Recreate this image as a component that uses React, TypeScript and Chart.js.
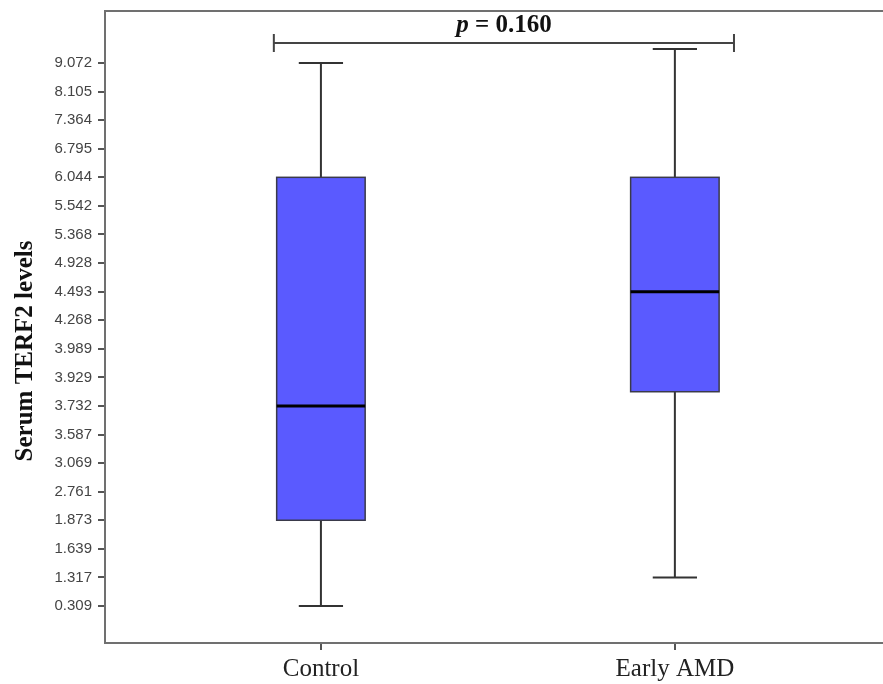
import React, { useEffect, useRef } from 'react';
import { Chart, registerables } from 'chart.js';

Chart.register(...registerables);

const categories = ['Control', 'Early AMD'];
const tickLabels = ['0.309', '1.317', '1.639', '1.873', '2.761', '3.069', '3.587', '3.732', '3.929', '3.989', '4.268', '4.493', '4.928', '5.368', '5.542', '6.044', '6.795', '7.364', '8.105', '9.072'];
const whiskerLow = [0.309, 1.317];
const quartile1 = [1.873, 3.83];
const medians = [3.732, 4.493];
const quartile3 = [6.044, 6.044];
const whiskerHigh = [9.072, 9.55];
const pValueLabel = ['p', ' = 0.160'];
const yTitle = 'Serum TERF2 levels';

const tickValues = tickLabels.map(Number);

// ordinal axis: value -> rank position between the listed tick values
function toRank(v: number): number {
  const n = tickValues.length;
  if (v <= tickValues[0]) {
    return (v - tickValues[0]) / (tickValues[1] - tickValues[0]);
  }
  for (let i = 0; i < n - 1; i++) {
    const a = tickValues[i];
    const b = tickValues[i + 1];
    if (v >= a && v <= b) return i + (v - a) / (b - a);
  }
  return n - 1 + (v - tickValues[n - 1]) / (tickValues[n - 1] - tickValues[n - 2]);
}

const BOX_HALF = 0.125;
const CAP_HALF = 0.0625;

const boxPlugin = {
  id: 'boxPlot',
  afterDatasetsDraw(chart: any) {
    const { ctx, chartArea, scales } = chart;
    const xs = scales.x;
    const ys = scales.y;

    // frame top line
    ctx.save();
    ctx.strokeStyle = '#707070';
    ctx.lineWidth = 2;
    ctx.beginPath();
    ctx.moveTo(chartArea.left - 1, chartArea.top);
    ctx.lineTo(chartArea.right, chartArea.top);
    ctx.stroke();
    ctx.restore();

    categories.forEach((_, i) => {
      const cx = xs.getPixelForValue(i);
      const bl = xs.getPixelForValue(i - BOX_HALF);
      const br = xs.getPixelForValue(i + BOX_HALF);
      const cl = xs.getPixelForValue(i - CAP_HALF);
      const cr = xs.getPixelForValue(i + CAP_HALF);
      const yMin = ys.getPixelForValue(toRank(whiskerLow[i]));
      const yQ1 = ys.getPixelForValue(toRank(quartile1[i]));
      const yMed = ys.getPixelForValue(toRank(medians[i]));
      const yQ3 = ys.getPixelForValue(toRank(quartile3[i]));
      const yMax = ys.getPixelForValue(toRank(whiskerHigh[i]));

      ctx.save();
      // whiskers
      ctx.strokeStyle = '#333333';
      ctx.lineWidth = 2;
      ctx.beginPath();
      ctx.moveTo(cx, yQ3);
      ctx.lineTo(cx, yMax);
      ctx.moveTo(cl, yMax);
      ctx.lineTo(cr, yMax);
      ctx.moveTo(cx, yQ1);
      ctx.lineTo(cx, yMin);
      ctx.moveTo(cl, yMin);
      ctx.lineTo(cr, yMin);
      ctx.stroke();
      // box
      ctx.fillStyle = '#5a5aff';
      ctx.fillRect(bl, yQ3, br - bl, yQ1 - yQ3);
      ctx.strokeStyle = '#3a3a4a';
      ctx.lineWidth = 1.5;
      ctx.strokeRect(bl, yQ3, br - bl, yQ1 - yQ3);
      // median
      ctx.strokeStyle = '#000000';
      ctx.lineWidth = 3;
      ctx.beginPath();
      ctx.moveTo(bl, yMed);
      ctx.lineTo(br, yMed);
      ctx.stroke();
      ctx.restore();
    });

    // significance bracket
    const topWhisker = Math.min(...whiskerHigh.map((v) => ys.getPixelForValue(toRank(v))));
    const by = topWhisker - 6;
    const bx1 = xs.getPixelForValue(-0.133);
    const bx2 = xs.getPixelForValue(1.167);
    ctx.save();
    ctx.strokeStyle = '#444444';
    ctx.lineWidth = 2;
    ctx.beginPath();
    ctx.moveTo(bx1, by);
    ctx.lineTo(bx2, by);
    ctx.moveTo(bx1, by - 9);
    ctx.lineTo(bx1, by + 9);
    ctx.moveTo(bx2, by - 9);
    ctx.lineTo(bx2, by + 9);
    ctx.stroke();

    const fItalic = 'italic bold 25px "Liberation Serif", "Times New Roman", serif';
    const fBold = 'bold 25px "Liberation Serif", "Times New Roman", serif';
    ctx.font = fItalic;
    const w1 = ctx.measureText(pValueLabel[0]).width;
    ctx.font = fBold;
    const w2 = ctx.measureText(pValueLabel[1]).width;
    const midX = (bx1 + bx2) / 2;
    const startX = midX - (w1 + w2) / 2;
    ctx.fillStyle = '#111111';
    ctx.textBaseline = 'alphabetic';
    ctx.textAlign = 'left';
    ctx.font = fItalic;
    ctx.fillText(pValueLabel[0], startX, by - 11);
    ctx.font = fBold;
    ctx.fillText(pValueLabel[1], startX + w1, by - 11);
    ctx.restore();

    // y-axis title
    ctx.save();
    ctx.translate(26, 351);
    ctx.rotate(-Math.PI / 2);
    ctx.font = 'bold 25px "Liberation Serif", "Times New Roman", serif';
    ctx.fillStyle = '#111111';
    ctx.textAlign = 'center';
    ctx.textBaseline = 'middle';
    ctx.fillText(yTitle, 0, 0);
    ctx.restore();
  },
};

export default function App() {
  const ref = useRef<HTMLCanvasElement | null>(null);

  useEffect(() => {
    if (!ref.current) return;
    const chart = new Chart(ref.current, {
      type: 'scatter',
      data: {
        datasets: [
          {
            label: 'median',
            data: medians.map((m, i) => ({ x: i, y: toRank(m) })),
            pointRadius: 0,
            showLine: false,
          },
        ],
      },
      options: {
        animation: false,
        responsive: false,
        devicePixelRatio: 1,
        layout: { padding: { top: 11, right: 0, left: 0, bottom: 0 } },
        plugins: { legend: { display: false }, tooltip: { enabled: false } },
        scales: {
          x: {
            type: 'linear',
            min: -0.61,
            max: 1.588,
            afterFit: (s: any) => {
              s.height = 41;
              s.paddingLeft = 0;
              s.paddingRight = 0;
            },
            afterBuildTicks: (s: any) => {
              s.ticks = categories.map((_, i) => ({ value: i }));
            },
            ticks: {
              callback: (v: any) => categories[v as number] ?? '',
              autoSkip: false,
              maxRotation: 0,
              color: '#222222',
              padding: 4,
              font: { family: '"Liberation Serif", "Times New Roman", serif', size: 25 },
            },
            grid: { drawOnChartArea: false, drawTicks: true, tickLength: 7, color: '#555555', lineWidth: 2 },
            border: { display: true, color: '#707070', width: 2 },
          },
          y: {
            type: 'linear',
            min: -1.295,
            max: 20.82,
            afterFit: (s: any) => {
              s.width = 105;
              s.paddingTop = 0;
              s.paddingBottom = 0;
            },
            afterBuildTicks: (s: any) => {
              s.ticks = tickLabels.map((_, i) => ({ value: i }));
            },
            ticks: {
              callback: (v: any) => tickLabels[v as number] ?? '',
              autoSkip: false,
              color: '#444444',
              padding: 6,
              font: { family: '"Liberation Sans", Arial, sans-serif', size: 15 },
            },
            grid: { drawOnChartArea: false, drawTicks: true, tickLength: 7, color: '#555555', lineWidth: 2 },
            border: { display: true, color: '#707070', width: 2 },
          },
        },
      },
      plugins: [boxPlugin],
    });
    return () => chart.destroy();
  }, []);

  return (
    <div style={{ position: 'fixed', left: 0, top: 0, width: 883, height: 684, background: '#ffffff' }}>
      <canvas ref={ref} width={883} height={684} style={{ display: 'block' }} />
    </div>
  );
}
